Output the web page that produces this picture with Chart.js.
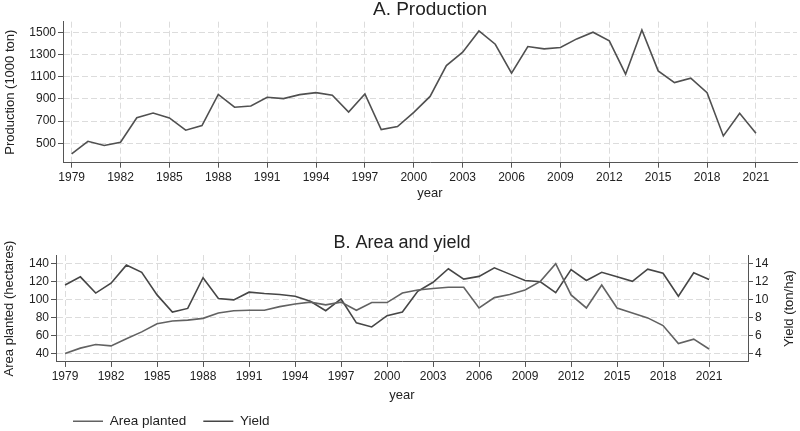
<!DOCTYPE html>
<html>
<head>
<meta charset="utf-8">
<script src="https://cdn.jsdelivr.net/npm/chart.js@4.4.1/dist/chart.umd.min.js"></script>
<style>
  html, body { margin: 0; padding: 0; background: #fff; overflow: hidden; }
  #top { position: absolute; left: 0; top: 0; width: 800px; height: 215px; }
  #bottom { position: absolute; left: 0; top: 215px; width: 800px; height: 223px; }
</style>
</head>
<body>
<div id="top"><canvas id="prodChart"></canvas></div>
<div id="bottom"><canvas id="areaChart"></canvas></div>
<script>
// data
const years = [1979, 1980, 1981, 1982, 1983, 1984, 1985, 1986, 1987, 1988,
               1989, 1990, 1991, 1992, 1993, 1994, 1995, 1996, 1997, 1998,
               1999, 2000, 2001, 2002, 2003, 2004, 2005, 2006, 2007, 2008,
               2009, 2010, 2011, 2012, 2013, 2014, 2015, 2016, 2017, 2018,
               2019, 2020, 2021];
const production = [405, 518, 480, 510, 730, 772, 728, 618, 660, 940,
                    825, 836, 914, 902, 938, 956, 932, 782, 944, 623,
                    650, 779, 922, 1200, 1320, 1512, 1392, 1131, 1371, 1350,
                    1362, 1440, 1500, 1422, 1122, 1521, 1152, 1047, 1086, 956,
                    566, 770, 590];
const areaPlanted = [40, 46, 50, 48.5, 56.5, 64, 73, 76, 77, 79,
                     85, 87.5, 88, 88, 92, 95, 97, 94, 97, 88,
                     96.5, 96.5, 107, 110.5, 112, 113.5, 113.5, 90.5, 102, 105.5,
                     110.5, 120, 139.5, 105, 90.5, 116, 90.5, 85, 79.5, 71,
                     51, 56, 45];
const yieldTon = [11.6, 12.5, 10.7, 11.8, 13.8, 13.0, 10.5, 8.6, 9.0, 12.4,
                  10.1, 9.95, 10.8, 10.65, 10.55, 10.35, 9.8, 8.75, 10.05, 7.4,
                  6.95, 8.2, 8.6, 10.9, 11.9, 13.4, 12.25, 12.55, 13.5, 12.8,
                  12.1, 11.95, 10.75, 13.3, 12.1, 13.0, 12.5, 12.0, 13.35, 12.9,
                  10.35, 12.95, 12.2];

const yearTicks = [1979, 1982, 1985, 1988, 1991, 1994, 1997, 2000, 2003, 2006, 2009, 2012, 2015, 2018, 2021];
const prodTicks = [500, 700, 900, 1100, 1300, 1500];
const areaTicks = [40, 60, 80, 100, 120, 140];
const yieldTicks = [4, 6, 8, 10, 12, 14];

const FONT = "'Liberation Sans', Arial, sans-serif";
const textColor = '#222';
const axisColor = '#555';
const gridColor = '#dcdcdc';
const tickFont = { family: FONT, size: 12 };
const axisTitleFont = { family: FONT, size: 13 };

function toPoints(vals) {
    return years.map((yr, i) => ({ x: yr, y: vals[i] }));
}

function yearAxis(min, max, height, titlePadBottom) {
    return {
        type: 'linear',
        min: min,
        max: max,
        afterBuildTicks: s => { s.ticks = yearTicks.map(v => ({ value: v })); },
        afterFit: s => { s.height = height; },
        ticks: { color: textColor, font: tickFont, padding: 3, maxRotation: 0, autoSkip: false,
                 callback: v => String(v) },
        grid: { color: gridColor, tickColor: axisColor, tickLength: 5 },
        border: { color: axisColor, width: 1, dash: [6, 3] },
        title: { display: true, text: 'year', color: textColor, font: axisTitleFont,
                 padding: { top: 0, bottom: titlePadBottom } }
    };
}

function valueAxis(min, max, tickVals, width, opts) {
    return Object.assign({
        type: 'linear',
        min: min,
        max: max,
        afterBuildTicks: s => { s.ticks = tickVals.map(v => ({ value: v })); },
        afterFit: s => { s.width = width; },
        ticks: { color: textColor, font: tickFont, padding: 2, callback: v => String(v) },
        grid: { color: gridColor, tickColor: axisColor, tickLength: 5 },
        border: { color: axisColor, width: 1, dash: [6, 3] }
    }, opts);
}

// right-hand axis title, drawn bottom-to-top like the left one
const rightTitle = {
    id: 'rightTitle',
    afterDraw(chart, args, o) {
        const s = chart.scales.y2;
        const ctx = chart.ctx;
        ctx.save();
        ctx.translate(s.right - 11, (chart.chartArea.top + chart.chartArea.bottom) / 2);
        ctx.rotate(-Math.PI / 2);
        ctx.font = '13px ' + FONT;
        ctx.fillStyle = textColor;
        ctx.textAlign = 'center';
        ctx.textBaseline = 'middle';
        ctx.fillText(o.text, 0, 0);
        ctx.restore();
    }
};

// A. Production
new Chart(document.getElementById('prodChart'), {
    type: 'line',
    data: {
        datasets: [{
            label: 'Production',
            data: toPoints(production),
            borderColor: '#505050',
            backgroundColor: '#505050',
            borderWidth: 1.6,
            pointRadius: 0,
            tension: 0
        }]
    },
    options: {
        responsive: true,
        maintainAspectRatio: false,
        animation: false,
        layout: { padding: { left: 0, right: 3, top: 0, bottom: 0 } },
        plugins: {
            legend: { display: false },
            tooltip: { enabled: false },
            title: {
                display: true, text: 'A. Production', color: '#222', fullSize: false,
                font: { family: FONT, size: 19, weight: 'normal', lineHeight: 1 },
                padding: { top: 0.5, bottom: 2.2 }
            }
        },
        scales: {
            x: yearAxis(1978.47, 2023.52, 52.3, 14.2),
            y: valueAxis(325, 1595, prodTicks, 63, {
                title: { display: true, text: 'Production (1000 ton)', color: textColor, font: axisTitleFont,
                         padding: { top: 2.2, bottom: 0 } }
            })
        }
    }
});

// B. Area and yield
new Chart(document.getElementById('areaChart'), {
    type: 'line',
    data: {
        datasets: [
            {
                label: 'Area planted',
                data: toPoints(areaPlanted),
                yAxisID: 'y',
                borderColor: '#626262',
                backgroundColor: '#626262',
                borderWidth: 1.6,
                pointRadius: 0,
                tension: 0
            },
            {
                label: 'Yield',
                data: toPoints(yieldTon),
                yAxisID: 'y2',
                borderColor: '#464646',
                backgroundColor: '#464646',
                borderWidth: 1.6,
                pointRadius: 0,
                tension: 0
            }
        ]
    },
    options: {
        responsive: true,
        maintainAspectRatio: false,
        animation: false,
        layout: { padding: 0 },
        plugins: {
            tooltip: { enabled: false },
            title: {
                display: true, text: 'B. Area and yield', color: '#222', fullSize: false,
                font: { family: FONT, size: 18, weight: 'normal', lineHeight: 1 },
                padding: { top: 19, bottom: 3 }
            },
            legend: {
                position: 'bottom',
                align: 'start',
                fullSize: false,
                labels: {
                    usePointStyle: true,
                    pointStyle: 'line',
                    pointStyleWidth: 30,
                    padding: 17,
                    color: textColor,
                    font: { family: FONT, size: 13.5 }
                }
            },
            rightTitle: { text: 'Yield (ton/ha)' }
        },
        scales: {
            x: yearAxis(1978.41, 2023.54, 35.55, -5.55),
            y: valueAxis(30.7, 149.2, areaTicks, 56, {
                position: 'left',
                title: { display: true, text: 'Area planted (hectares)', color: textColor, font: axisTitleFont,
                         padding: { top: 1.2, bottom: 0 } }
            }),
            y2: valueAxis(3.07, 14.92, yieldTicks, 52, {
                position: 'right',
                grid: { drawOnChartArea: false, color: gridColor, tickColor: axisColor, tickLength: 5 }
            })
        }
    },
    plugins: [rightTitle]
});
</script>
</body>
</html>
